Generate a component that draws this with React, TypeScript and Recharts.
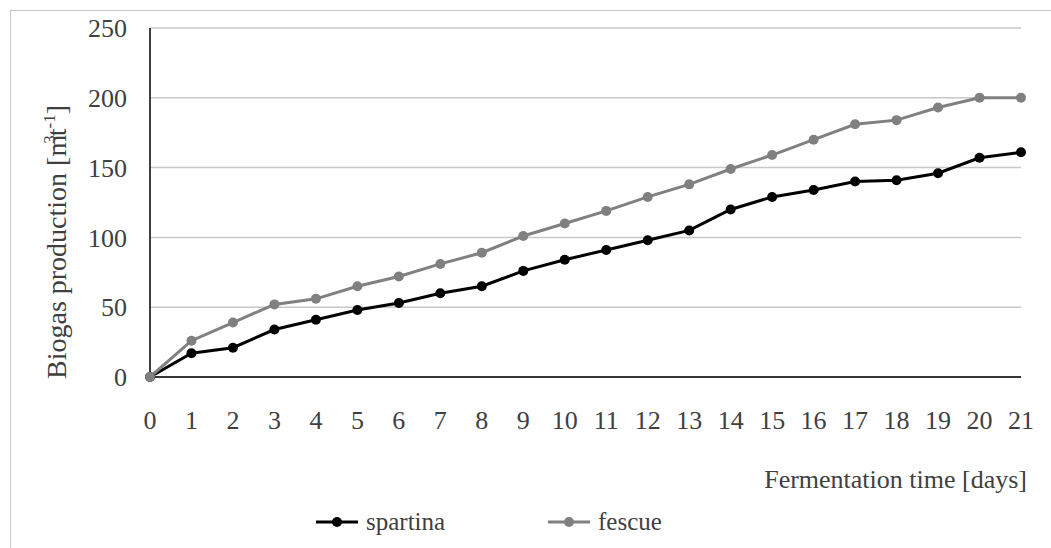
import { LineChart, Line, XAxis, YAxis, CartesianGrid, Legend } from 'recharts';

const days = ['0', '1', '2', '3', '4', '5', '6', '7', '8', '9', '10', '11', '12', '13', '14', '15', '16', '17', '18', '19', '20', '21'];
const spartina = [0, 17, 21, 34, 41, 48, 53, 60, 65, 76, 84, 91, 98, 105, 120, 129, 134, 140, 141, 146, 157, 161];
const fescue = [0, 26, 39, 52, 56, 65, 72, 81, 89, 101, 110, 119, 129, 138, 149, 159, 170, 181, 184, 193, 200, 200];
const yTicks = [0, 50, 100, 150, 200, 250];
const seriesOrder = ['spartina', 'fescue'];

const data = days.map((day, i) => ({ day, spartina: spartina[i], fescue: fescue[i] }));

const FONT = 'Liberation Serif, serif';
const TEXT = '#404040';

function LegendContent({ payload }: any) {
  const items = [...(payload || [])].sort((a: any, b: any) => seriesOrder.indexOf(a.value) - seriesOrder.indexOf(b.value));
  return (
    <svg width={1051} height={40} style={{ display: 'block' }}>
      {items.map((p: any, i: number) => {
        const x0 = 316 + i * 232;
        return (
          <g key={p.value}>
            <line x1={x0} y1={20} x2={x0 + 42} y2={20} stroke={p.color} strokeWidth={3} />
            <circle cx={x0 + 21} cy={20} r={5} fill={p.color} />
            <text x={x0 + 50} y={28} fill={TEXT} fontSize={25} fontFamily={FONT}>{p.value}</text>
          </g>
        );
      })}
    </svg>
  );
}

export default function App() {
  return (
    <div style={{ position: 'absolute', left: 0, top: 0, width: 1051, height: 548, overflow: 'hidden', background: '#fff' }}>
      <div style={{ position: 'absolute', left: 10, top: 10, width: 1200, height: 700, border: '1px solid #c4c4c4' }} />
      <LineChart width={1051} height={548} data={data} margin={{ top: 28, right: 30, left: 0, bottom: 6 }}>
        <CartesianGrid vertical={false} stroke="#c8c8c8" strokeWidth={1.5} />
        <XAxis
          dataKey="day"
          height={125}
          interval={0}
          tickLine={false}
          axisLine={{ stroke: '#000', strokeWidth: 1.5 }}
          tickMargin={28}
          tick={{ fill: TEXT, fontSize: 26, fontFamily: FONT }}
          label={{
            content: ({ viewBox }: any) => (
              <text x={viewBox.x + viewBox.width + 6} y={viewBox.y + 111} textAnchor="end" fill={TEXT} fontSize={26} fontFamily={FONT}>
                Fermentation time [days]
              </text>
            ),
          }}
        />
        <YAxis
          width={150}
          domain={[0, 250]}
          ticks={yTicks}
          tickLine={false}
          axisLine={{ stroke: '#000', strokeWidth: 1.5 }}
          tickMargin={17}
          tick={{ fill: TEXT, fontSize: 26, fontFamily: FONT }}
          label={{
            content: () => (
              <text transform="translate(66,242) rotate(-90)" textAnchor="middle" fill={TEXT} fontSize={28} fontFamily={FONT}>
                Biogas production [m<tspan dx={-9} dy={-11} fontSize={17}>3</tspan><tspan dx={-1} dy={11}>t</tspan><tspan dy={-11} fontSize={17}>-1</tspan><tspan dy={11}>]</tspan>
              </text>
            ),
          }}
        />
        <Legend verticalAlign="bottom" content={<LegendContent />} wrapperStyle={{ left: 0, width: 1051 }} />
        <Line dataKey="spartina" name="spartina" stroke="#000" strokeWidth={3} dot={{ r: 5, fill: '#000', stroke: '#000', strokeWidth: 0 }} activeDot={false} isAnimationActive={false} />
        <Line dataKey="fescue" name="fescue" stroke="#808080" strokeWidth={3} dot={{ r: 5, fill: '#808080', stroke: '#808080', strokeWidth: 0 }} activeDot={false} isAnimationActive={false} />
      </LineChart>
    </div>
  );
}
